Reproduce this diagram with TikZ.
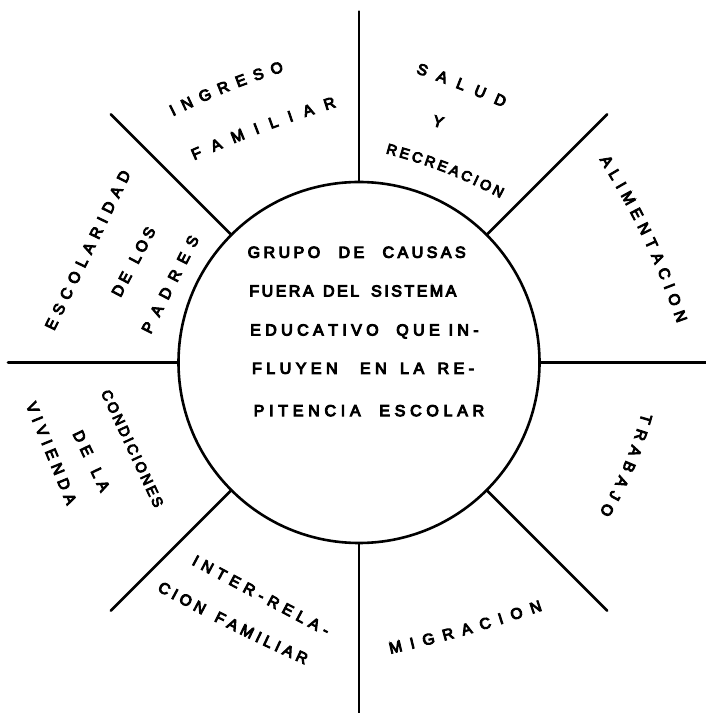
\documentclass[tikz,border=0pt]{standalone}
\usepackage{fontspec}
\setmainfont{Liberation Sans}
\newfontfamily\heavy{Liberation Sans}[FakeBold=6]
\usetikzlibrary{decorations.text}
\newcommand\lblfont{\heavy\fontsize{15.5}{17}\selectfont}
\newcommand\lblsmall{\heavy\fontsize{14.5}{16}\selectfont}
\newcommand\ctrfont{\heavy\fontsize{16}{18}\selectfont}
\makeatletter
% spread the letters of one word with fill glue between them
\newcommand\spw[1]{\@tfor\spw@c:=#1\do{\spw@c\hfill}\unskip}
\makeatother
\tikzset{
  spoke/.style={line width=2.6pt, line cap=round},
  hub/.style={circle, draw, line width=2.6pt, minimum size=361pt, inner sep=0pt},
  arctext/.style={decorate, decoration={text along path, text align={fit to path}, raise=-5.6pt}},
  arclabel/.style={arctext, decoration={text={|\lblfont|#1}}},
  arcsmall/.style={arctext, decoration={text={|\lblsmall|#1}, raise=-5.2pt}},
  ctrline/.style={anchor=base west, inner sep=0pt, font=\ctrfont},
}
\begin{document}
\begin{tikzpicture}[x=1pt,y=1pt]
\fill[white] (0,0) rectangle (705,713);
\useasboundingbox (0,0) rectangle (705,713);

% central circle
\node[hub] (c) at (359,350.5) {};

% spokes
\foreach \a/\n in {90/t,45/ne,0/r,-45/se,-90/b,-135/sw,180/l,135/nw}{
  \coordinate (o\n) at ([shift={(\a:351)}]c.center);
  \draw[spoke] (c.\a) -- (o\n);
}

% central text
\node[ctrline] (l1) at (247.5,455.2) {\hbox to 218pt{\spw{GRUPO}\hfill\ \hfill\hfill\hfill\spw{DE}\hfill\ \hfill\hfill\hfill\spw{CAUSAS}}};
\node[ctrline] (l2) at (249.2,416.5) {\hbox to 207pt{\spw{FUERA}\hfill\ \hfill\spw{DEL}\hfill\ \hfill\hfill\spw{SISTEMA}}};
\node[ctrline] (l3) at (250,377.5) {\hbox to 228.5pt{\spw{EDUCATIVO}\hfill\ \hfill\hfill\spw{QUE}\ \hfill\spw{IN-}}};
\node[ctrline] (l4) at (251.9,339.2) {\hbox to 222pt{\spw{FLUYEN}\hfill\ \hfill\hfill\hfill\spw{EN}\hfill\ \hfill\spw{LA}\hfill\ \hfill\spw{RE-}}};
\node[ctrline] (l5) at (253.5,296.8) {\hbox to 230.5pt{\spw{PITENCIA}\hfill\ \hfill\hfill\spw{ESCOLAR}}};

% outer labels
\path[arclabel={INGRESO}] (170.5,601.9) to[bend left=4] (282.3,647);
\path[arclabel={FAMILIAR}] (192,558) to[bend left=3] (334.7,611.5);
\path[arclabel={SALUD}] (417.7,645.2) to[bend left=2] (505.6,610.8);
\node[font=\lblfont, rotate=-15, inner sep=0pt] (y) at (438.3,591.3) {Y};
\path[arcsmall={RECREACION}] (387,564.8) to[bend left=6] (503,519.5);
\path[arclabel={ALIMENTACION}] (604.4,556.4) to[bend left=6] (682.6,391.6);
\path[arclabel={TRABAJO}] (647.4,298.5) to[bend left=7] (604.3,197.5);
\path[arclabel={MIGRACION}] (389.2,64.7) to[bend right=3] (540.8,108);
\path[arclabel={CION FAMILIAR}] (159.6,127.4) to[bend right=2] (307.1,53.6);
\path[arclabel={INTER-RELA-}] (193.9,153.7) -- (328.6,81.9);
\path[arcsmall={CONDICIONES}] (105.5,322.5) -- (159.5,206.8);
\path[arclabel={DE LA}] (77.4,281.7) -- (105.9,222.6);
\path[arclabel={VIVIENDA}] (31,310.3) -- (72.3,209.4);
\path[arclabel={ESCOLARIDAD}] (49.1,384.3) -- (125.9,541.7);
\path[arclabel={DE LOS}] (115.5,417.7) -- (151.1,485);
\path[arclabel={PADRES}] (145.6,381) -- (194.4,476.6);
\end{tikzpicture}
\end{document}
